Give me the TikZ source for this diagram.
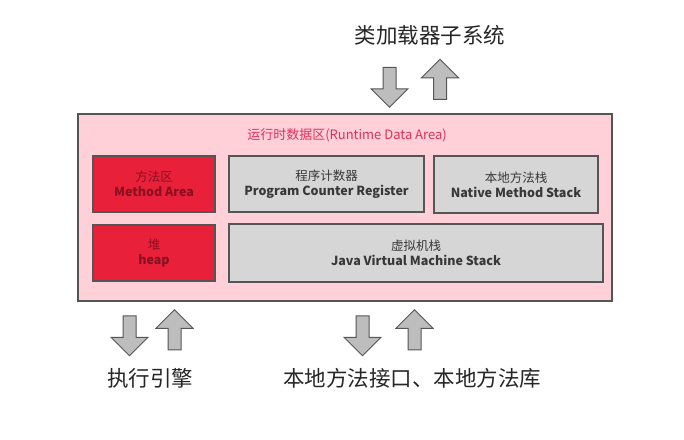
\documentclass[tikz,border=0pt]{standalone}
\usepackage{fontspec}
\newfontfamily\cjk{Noto Sans CJK SC}
\usetikzlibrary{shapes.arrows}

\definecolor{areapink}{HTML}{FFD0D8}
\definecolor{titlered}{HTML}{E0305A}
\definecolor{heapred}{HTML}{E8203A}
\definecolor{heaptext}{HTML}{8A1020}
\definecolor{stackgray}{HTML}{D6D6D6}
\definecolor{stacktext}{HTML}{383838}
\definecolor{boxline}{HTML}{555555}
\definecolor{arrowgray}{HTML}{BDBDBD}

\tikzset{
  areabox/.style={draw=boxline, line width=1.5pt, fill=areapink},
  heapbox/.style={draw=boxline, line width=1.5pt, fill=heapred, text=heaptext,
    align=center, font=\cjk\fontsize{12.5}{15}\selectfont},
  stackbox/.style={draw=boxline, line width=1.5pt, fill=stackgray, text=stacktext,
    align=center, font=\cjk\fontsize{12.5}{15}\selectfont},
  blockarrow/.style={single arrow, draw=boxline, line width=1pt, fill=arrowgray,
    inner sep=6pt, minimum width=36, minimum height=40,
    single arrow head extend=12, single arrow tip angle=90},
  bigtext/.style={font=\cjk\fontsize{21.5}{24}\selectfont, text=black!85},
}

\begin{document}
\begin{tikzpicture}[x=1pt,y=-1pt]
\useasboundingbox (0,0) rectangle (684,439);
% runtime data area
\node[areabox, minimum width=534, minimum height=187] (rda) at (345,207.5) {};
\node[text=titlered, font=\cjk\fontsize{13}{15}\selectfont] (rdatitle) at (347,135) {运行时数据区(Runtime Data Area)};
\node[heapbox, minimum width=122, minimum height=56] (method) at (154,184) {方法区\\\textbf{Method Area}};
\node[heapbox, minimum width=122, minimum height=56] (heap) at (154,253) {堆\\\textbf{heap}};
\node[stackbox, minimum width=195, minimum height=56] (pcr) at (326.5,184) {程序计数器\\\textbf{Program Counter Register}};
\node[stackbox, minimum width=164, minimum height=57] (nms) at (516,184.5) {本地方法栈\\\textbf{Native Method Stack}};
\node[stackbox, minimum width=374, minimum height=58] (jvms) at (416,253) {虚拟机栈\\\textbf{Java Virtual Machine Stack}};
% class loader
\node[bigtext] (loader) at (430,35) {类加载器子系统};
\node[blockarrow, rotate=-90] (loaderin) at (389.5,84) {};
\node[blockarrow, rotate=90] (loaderout) at (440,82.5) {};
% execution engine
\node[blockarrow, rotate=-90] (enginein) at (129.5,332.5) {};
\node[blockarrow, rotate=90] (engineout) at (174.5,333) {};
\node[bigtext] (engine) at (150,378) {执行引擎};
% native interface
\node[blockarrow, rotate=-90] (nativein) at (362.5,332.5) {};
\node[blockarrow, rotate=90] (nativeout) at (414.5,333) {};
\node[bigtext] (native) at (412,378) {本地方法接口、本地方法库};
\end{tikzpicture}
\end{document}
